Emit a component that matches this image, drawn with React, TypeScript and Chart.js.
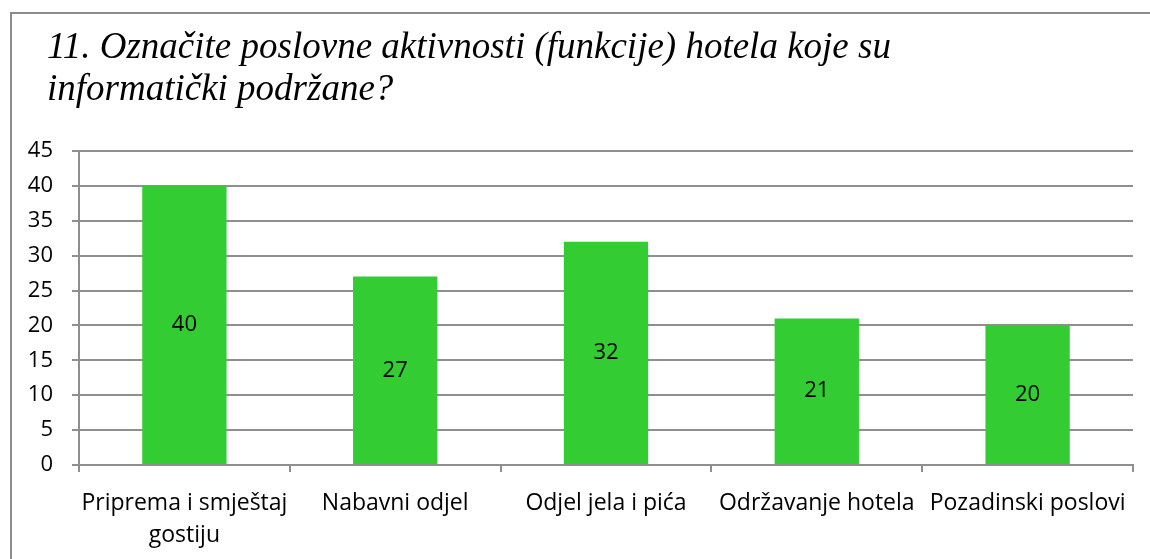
import React, { useEffect, useRef } from "react";
import { Chart, registerables } from "chart.js";

Chart.register(...registerables);

const titleLines = [
  "11. Označite poslovne aktivnosti (funkcije) hotela koje su",
  "informatički podržane?",
];
const categories: (string | string[])[] = [
  ["Priprema i smještaj", "gostiju"],
  "Nabavni odjel",
  "Odjel jela i pića",
  "Održavanje hotela",
  "Pozadinski poslovi",
];
const values = [40, 27, 32, 21, 20];
const yMin = 0;
const yMax = 45;
const yStep = 5;

const FONT = "'Open Sans', 'Liberation Sans', sans-serif";
const GRID = "#8f8f8f";

const valueLabels = {
  id: "valueLabels",
  afterDatasetsDraw(chart: any) {
    const ctx = chart.ctx;
    const meta = chart.getDatasetMeta(0);
    ctx.save();
    ctx.font = `22px ${FONT}`;
    ctx.fillStyle = "#000";
    ctx.textAlign = "center";
    ctx.textBaseline = "middle";
    meta.data.forEach((el: any, i: number) => {
      const y = (el.y + el.base) / 2;
      ctx.fillText(String(chart.data.datasets[0].data[i]), el.x, y);
    });
    ctx.restore();
  },
};

const titleDraw = {
  id: "titleDraw",
  afterDraw(chart: any) {
    const ctx = chart.ctx;
    ctx.save();
    ctx.font = "italic 37px 'Liberation Serif'";
    ctx.fillStyle = "#000";
    ctx.textAlign = "left";
    ctx.textBaseline = "alphabetic";
    ctx.fillText(titleLines[0], 47, 58);
    ctx.fillText(titleLines[1], 47, 100);
    ctx.restore();
  },
};

export default function App() {
  const ref = useRef<HTMLCanvasElement>(null);
  useEffect(() => {
    if (!ref.current) return;
    const chart = new Chart(ref.current, {
      type: "bar",
      data: {
        labels: categories,
        datasets: [
          {
            data: values,
            backgroundColor: "#33cc33",
            borderWidth: 0,
            barPercentage: 0.4,
            categoryPercentage: 1,
          },
        ],
      },
      options: {
        responsive: false,
        animation: false,
        layout: { padding: { left: 0, right: 17, top: 151, bottom: 0 } },
        plugins: {
          legend: { display: false },
          tooltip: { enabled: false },
          title: { display: false },
        },
        scales: {
          x: {
            afterFit: (s: any) => {
              s.height = 94;
            },
            grid: {
              display: true,
              offset: true,
              drawOnChartArea: false,
              drawTicks: true,
              tickLength: 7,
              color: GRID,
              lineWidth: 2,
            },
            border: { display: true, color: GRID, width: 2 },
            ticks: {
              autoSkip: false,
              maxRotation: 0,
              minRotation: 0,
              color: "#000",
              padding: 16,
              font: { family: FONT, size: 23, lineHeight: 1.38 },
            },
          },
          y: {
            min: yMin,
            max: yMax,
            afterFit: (s: any) => {
              s.width = 79;
            },
            grid: {
              color: GRID,
              lineWidth: 2,
              drawTicks: true,
              tickLength: 7,
            },
            border: { display: true, color: GRID, width: 2 },
            ticks: {
              stepSize: yStep,
              color: "#000",
              padding: 19,
              font: { family: FONT, size: 22 },
            },
          },
        },
      },
      plugins: [valueLabels, titleDraw],
    });
    return () => chart.destroy();
  }, []);

  return (
    <div
      style={{
        position: "absolute",
        left: 0,
        top: 0,
        width: 1150,
        height: 559,
        overflow: "hidden",
        background: "#fff",
      }}
    >
      <div
        style={{
          position: "absolute",
          left: 10,
          top: 12,
          width: 1300,
          height: 700,
          border: "2px solid #8c8c8c",
          boxSizing: "border-box",
        }}
      />
      <canvas
        ref={ref}
        width={1150}
        height={559}
        style={{ position: "absolute", left: 0, top: 0, width: 1150, height: 559 }}
      />
    </div>
  );
}
